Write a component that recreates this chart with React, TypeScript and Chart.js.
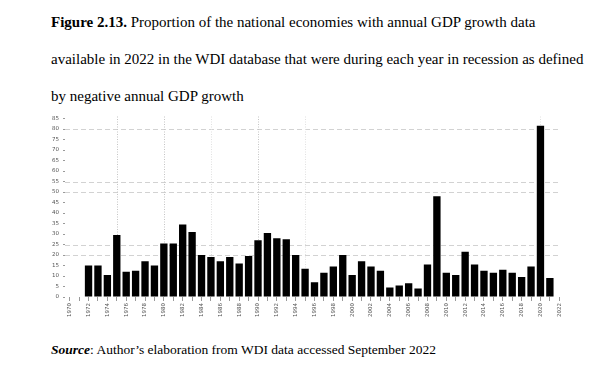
import React, { useEffect, useRef } from "react";
import { Chart, registerables } from "chart.js";

Chart.register(...registerables);

// ---- Data ----
const years: string[] = [
  "1970", "1971", "1972", "1973", "1974", "1975", "1976", "1977", "1978", "1979",
  "1980", "1981", "1982", "1983", "1984", "1985", "1986", "1987", "1988", "1989",
  "1990", "1991", "1992", "1993", "1994", "1995", "1996", "1997", "1998", "1999",
  "2000", "2001", "2002", "2003", "2004", "2005", "2006", "2007", "2008", "2009",
  "2010", "2011", "2012", "2013", "2014", "2015", "2016", "2017", "2018", "2019",
  "2020", "2021", "2022",
];

// Share (%) of economies in recession in each year
const recessionShare: (number | null)[] = [
  null, null, 15, 15, 10.5, 29.5, 12, 12.5, 17, 15,
  25.5, 25.5, 34.5, 31, 20, 19, 17, 19, 16, 19.5,
  27, 30.5, 28, 27.5, 20, 13.5, 7, 11.5, 14.5, 20,
  10.5, 17, 14.5, 12.5, 4.5, 5.5, 6.5, 4, 15.5, 48,
  11.5, 10.5, 21.5, 15.5, 12.5, 11.5, 13, 11.5, 9.5, 14.5,
  81.5, 9, null,
];

const yTickValues: number[] = [0, 5, 10, 15, 20, 25, 30, 35, 40, 45, 50, 55, 60, 65, 70, 75, 80, 85];
const horizontalRefValues: number[] = [80, 55, 50, 25, 20];
const verticalRefYearsStrong: string[] = ["1975", "1980", "1990"];
const verticalRefYearsFaint: string[] = ["1985", "1995", "2020"];

const titleLines: string[] = [
  "Proportion of the national economies with annual GDP growth data",
  "available in 2022 in the WDI database that were during each year in recession as defined",
  "by negative annual GDP growth",
];
const figureLabel = "Figure 2.13.";
const sourceLabel = "Source";
const sourceText = ": Author\u2019s elaboration from WDI data accessed September 2022";

const refLinesPlugin = {
  id: "refLines",
  beforeDatasetsDraw(chart: any) {
    const { ctx, chartArea, scales } = chart;
    const x = scales.x;
    const y = scales.y;
    ctx.save();
    ctx.lineWidth = 1;
    ctx.strokeStyle = "#d2d2d2";
    ctx.setLineDash([5, 3]);
    for (const v of horizontalRefValues) {
      const py = Math.round(y.getPixelForValue(v)) + 0.5;
      ctx.beginPath();
      ctx.moveTo(chartArea.left, py);
      ctx.lineTo(chartArea.right - 3, py);
      ctx.stroke();
    }
    ctx.setLineDash([1, 1.5]);
    const drawV = (list: string[], color: string) => {
      ctx.strokeStyle = color;
      for (const yr of list) {
        const idx = years.indexOf(yr);
        const px = Math.round(x.getPixelForValue(idx)) + 0.5;
        ctx.beginPath();
        ctx.moveTo(px, chartArea.top - 2);
        ctx.lineTo(px, chartArea.bottom);
        ctx.stroke();
      }
    };
    drawV(verticalRefYearsStrong, "#c4c4c4");
    drawV(verticalRefYearsFaint, "#e0e0e0");
    ctx.restore();
  },
};

export default function App() {
  const canvasRef = useRef<HTMLCanvasElement | null>(null);

  useEffect(() => {
    if (!canvasRef.current) return;
    const chart = new Chart(canvasRef.current, {
      type: "bar",
      data: {
        labels: years,
        datasets: [
          {
            data: recessionShare as any,
            backgroundColor: "#000000",
            borderWidth: 0,
            barPercentage: 0.78,
            categoryPercentage: 1,
          },
        ],
      },
      options: {
        animation: false,
        responsive: false,
        devicePixelRatio: 1,
        layout: { padding: { top: 13.5, right: 38, left: 0, bottom: 0 } },
        plugins: {
          legend: { display: false },
          tooltip: { enabled: false },
          title: { display: false },
        },
        scales: {
          x: {
            type: "category",
            offset: true,
            border: { display: false },
            grid: {
              display: true,
              drawOnChartArea: false,
              drawTicks: true,
              tickLength: 4,
              tickColor: "#9a9a9a",
              offset: false,
            },
            ticks: {
              autoSkip: false,
              minRotation: 90,
              maxRotation: 90,
              padding: 2,
              color: "#555555",
              font: { size: 5.5, family: "'DejaVu Sans', sans-serif" },
              callback: function (this: any, value: any) {
                const lbl = years[value as number];
                return parseInt(lbl, 10) % 2 === 0 ? lbl : "";
              },
            },
            afterFit: (scale: any) => {
              scale.height = 33;
            },
          },
          y: {
            min: 0,
            max: 85,
            border: { display: false },
            grid: {
              display: true,
              drawOnChartArea: false,
              drawTicks: true,
              tickLength: 2,
              tickColor: "#9a9a9a",
            },
            afterBuildTicks: (scale: any) => {
              scale.ticks = yTickValues.map((v) => ({ value: v }));
            },
            ticks: {
              padding: 4,
              color: "#555555",
              font: { size: 5.5, family: "'DejaVu Sans', sans-serif" },
            },
            afterFit: (scale: any) => {
              scale.width = 65;
            },
          },
        },
      },
      plugins: [refLinesPlugin],
    } as any);
    return () => chart.destroy();
  }, []);

  const serif = "'Times New Roman', 'Liberation Serif', serif";
  const lineStyle = (top: number, size: number): React.CSSProperties => ({
    position: "absolute",
    left: 51,
    top,
    fontFamily: serif,
    fontSize: size,
    lineHeight: "17px",
    color: "#000",
    whiteSpace: "nowrap",
  });

  return (
    <div
      style={{
        position: "fixed",
        left: 0,
        top: 0,
        width: 602,
        height: 375,
        background: "#ffffff",
        overflow: "hidden",
      }}
    >
      <div style={lineStyle(14, 15)}>
        <b>{figureLabel}</b> {titleLines[0]}
      </div>
      <div style={lineStyle(51, 15)}>{titleLines[1]}</div>
      <div style={lineStyle(88, 15)}>{titleLines[2]}</div>
      <canvas
        ref={canvasRef}
        width={602}
        height={225}
        style={{ position: "absolute", left: 0, top: 105, width: 602, height: 225 }}
      />
      <div style={lineStyle(341, 13.5)}>
        <b>
          <i>{sourceLabel}</i>
        </b>
        {sourceText}
      </div>
    </div>
  );
}
